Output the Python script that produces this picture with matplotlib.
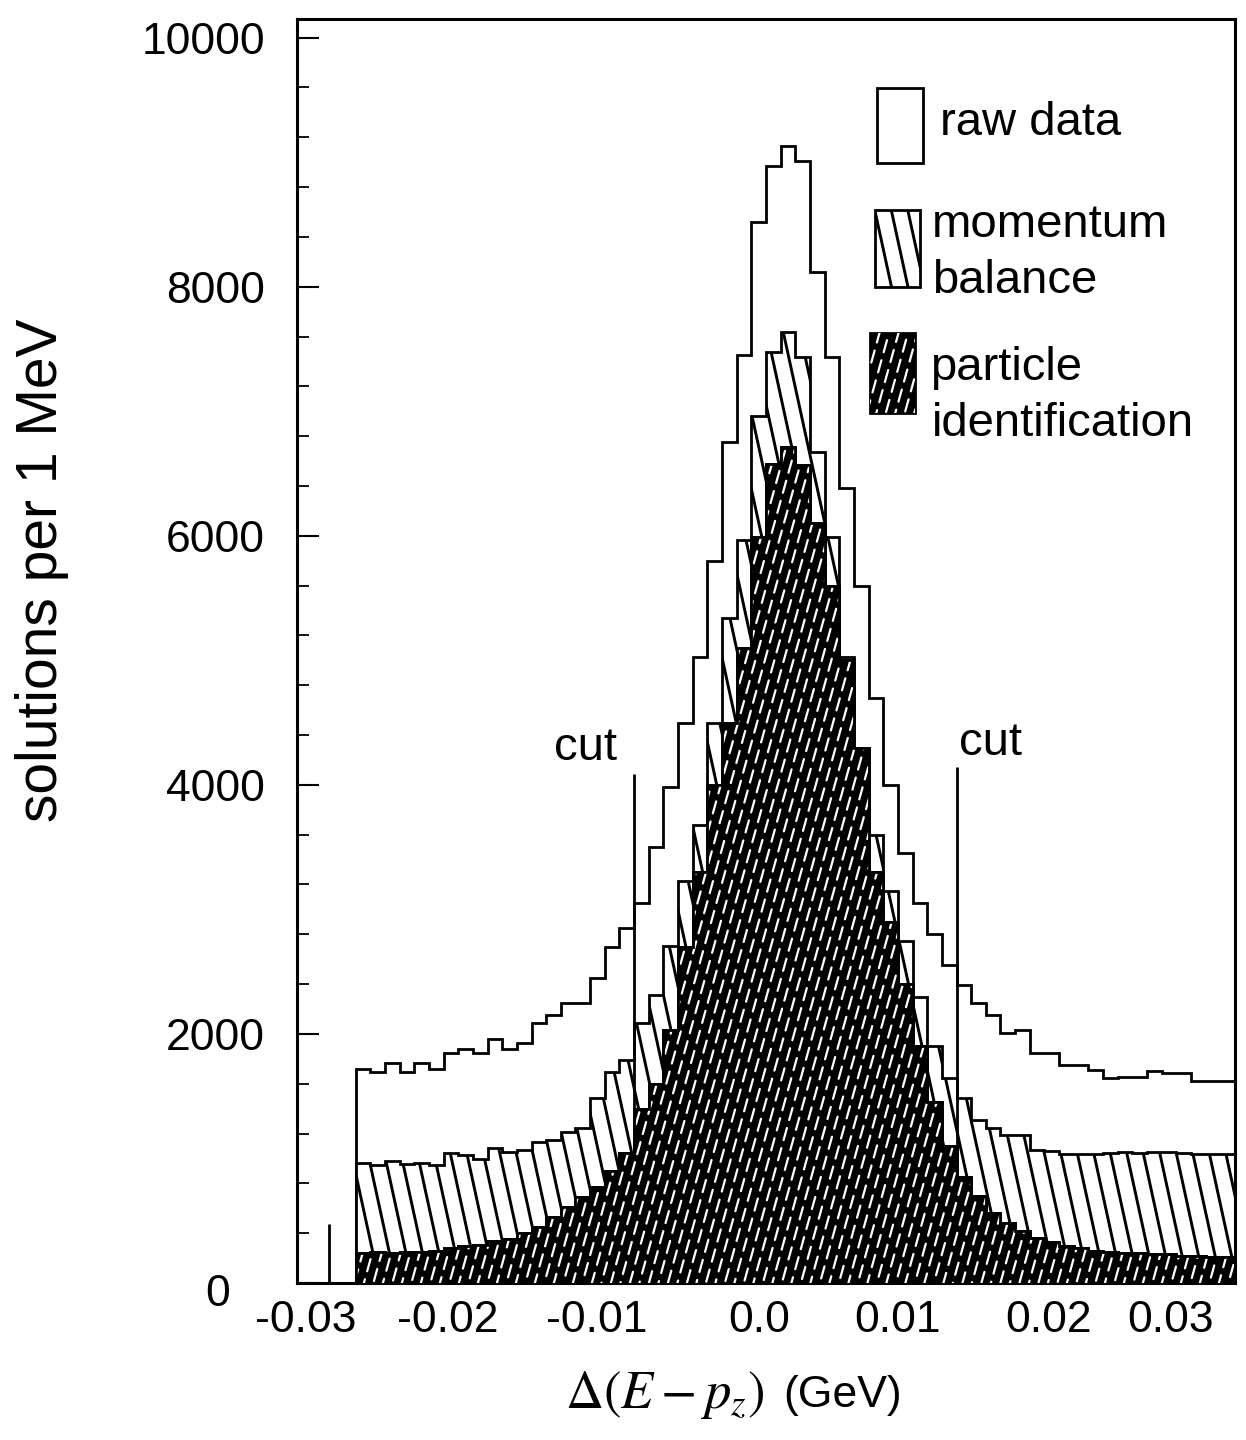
import numpy as np
import matplotlib
matplotlib.use("Agg")
import matplotlib.pyplot as plt
from matplotlib.collections import LineCollection
from matplotlib.patches import Rectangle
from matplotlib.transforms import ScaledTranslation

plt.rcParams["font.family"] = ["Liberation Sans", "DejaVu Sans"]
plt.rcParams["mathtext.fontset"] = "stix"
plt.rcParams["axes.unicode_minus"] = False
plt.rcParams["lines.scale_dashes"] = False

# --- data: solutions per 1 MeV bin, first bin starts at -0.027 GeV ---
bin_lo = -0.027
bin_w = 0.001
raw = [1715, 1696, 1763, 1696, 1763, 1715, 1843, 1883, 1843, 1956,
       1883, 1924, 2084, 2151, 2250, 2250, 2450, 2700, 2850, 3050,
       3500, 3980, 4500, 5024, 5800, 6752, 7448, 8518, 8973, 9133,
       9013, 8116, 7434, 6380, 5600, 4700, 4000, 3450, 3050, 2800,
       2550, 2390, 2247, 2151, 2006, 2030, 1843, 1843, 1750, 1750,
       1709, 1645, 1653, 1653, 1701, 1685, 1685, 1621, 1621, 1621]
mom_bal = [963, 947, 979, 955, 963, 947, 1043, 1027, 995, 1083,
           1052, 1067, 1131, 1147, 1212, 1244, 1485, 1693, 1790, 2087,
           2310, 2710, 3230, 3676, 4494, 5337, 5963, 6966, 7475, 7635,
           7434, 6672, 5990, 5024, 4260, 3600, 3150, 2750, 2300, 1900,
           1650, 1485, 1308, 1244, 1188, 1188, 1067, 1060, 1035, 1035,
           1035, 1043, 1050, 1040, 1050, 1050, 1040, 1035, 1035, 1035]
pid = [240, 250, 240, 245, 250, 255, 280, 300, 305, 340,
       350, 400, 450, 530, 610, 690, 770, 900, 1040, 1400,
       1600, 2030, 2700, 3300, 4000, 4500, 5100, 5990, 6580, 6710,
       6565, 6100, 5600, 5000, 4300, 3300, 2900, 2400, 1900, 1450,
       1100, 850, 700, 560, 480, 420, 360, 330, 300, 280,
       260, 250, 240, 240, 230, 230, 220, 220, 210, 210]
edges = bin_lo + bin_w * np.arange(len(raw) + 1)

cut_x = [-0.008, 0.014]
cut_top = [4090, 4140]
cut_text_x = [-0.0113, 0.0163]
cut_text_y = [4200, 4240]
stray_x = [-0.0288]
stray_h = [470]

xticks = [-0.03, -0.02, -0.01, 0.0, 0.01, 0.02, 0.03]
xticklabels = ["-0.03", "-0.02", "-0.01", "0.0", "0.01", "0.02", "0.03"]
yticks = [0, 2000, 4000, 6000, 8000, 10000]

# --- figure / axes geometry (pixels of a 1246x1440 canvas) ---
W_PX, H_PX = 1246, 1440
AX_L, AX_R, AX_T, AX_B = 297, 1235, 19, 1283
ax_w = AX_R - AX_L
ax_h = AX_B - AX_T

fig = plt.figure(figsize=(W_PX / 100, H_PX / 100), dpi=100)
ax = fig.add_axes([AX_L / W_PX, 1 - AX_B / H_PX, ax_w / W_PX, ax_h / H_PX])


def hatch(clip, slope, step, color, lw, dash=None, box=None):
    # steep lines drawn in axes fraction, clipped to a patch
    # slope > 0 -> "\" ; slope < 0 -> "/"
    x_a, x_b, y_a, y_b = box if box else (0, ax_w, 0, ax_h)
    run = (y_b - y_a) / abs(slope)
    segs, styles = [], []
    x0 = x_a - run
    i = 0
    while x0 < x_b + run:
        if slope > 0:
            seg = [(x0, y_b), (x0 + run, y_a)]
        else:
            seg = [(x0, y_a), (x0 + run, y_b)]
        segs.append([(px / ax_w, py / ax_h) for px, py in seg])
        if dash:
            styles.append(((i * 7.3) % sum(dash), dash))
        x0 += step
        i += 1
    lc = LineCollection(segs, colors=color, linewidths=lw,
                        transform=ax.transAxes,
                        linestyles=styles if dash else "solid",
                        zorder=clip.get_zorder() + 0.05, capstyle="round")
    ax.add_collection(lc)
    lc.set_clip_path(clip)
    return lc


# raw data
ax.stairs(raw, edges, baseline=0, fill=True, facecolor="white",
          edgecolor="black", linewidth=2.0, zorder=1)

# momentum balance
mb_fill = ax.stairs(mom_bal, edges, baseline=0, fill=True,
                    facecolor="white", edgecolor="none", zorder=2)
hatch(mb_fill, 4.6, 16.5, "black", 2.1)
ax.stairs(mom_bal, edges, baseline=0, fill=False, edgecolor="black",
          linewidth=2.0, zorder=2.2)

# cut lines
for cx, ct in zip(cut_x, cut_top):
    ax.vlines(cx, 0, ct, color="black", linewidth=2.0, zorder=2.5)
for tx, ty in zip(cut_text_x, cut_text_y):
    ax.text(tx, ty, "cut", fontsize=34, ha="center", va="baseline")
ax.vlines(stray_x, 0, stray_h, color="black", linewidth=2.0)

# particle identification
pid_fill = ax.stairs(pid, edges, baseline=0, fill=True,
                     facecolor="black", edgecolor="black", linewidth=2.0,
                     zorder=3)
hatch(pid_fill, -3.6, 9.5, "white", 1.6, dash=(9.0, 6.0))
ax.stairs(pid, edges, baseline=0, fill=False, edgecolor="black",
          linewidth=2.0, zorder=3.2)


# --- legend, drawn by hand in axes fraction ---
def to_ax(px, py):
    return (px - AX_L) / ax_w, (AX_B - py) / ax_h


def box(x0, y0, x1, y1, face):
    (ax0, ay1), (ax1, ay0) = to_ax(x0, y0), to_ax(x1, y1)
    r = Rectangle((ax0, ay0), ax1 - ax0, ay1 - ay0, transform=ax.transAxes,
                  facecolor=face, edgecolor="black", linewidth=2.0, zorder=5)
    ax.add_patch(r)
    return r


box(877, 88, 923, 163, "white")
r_mb = box(875, 210, 920, 287, "white")
hatch(r_mb, 4.6, 16.5, "black", 2.1,
      box=(875 - AX_L, 920 - AX_L, AX_B - 287, AX_B - 210))
r_pid = box(870, 333, 915, 413, "black")
hatch(r_pid, -3.6, 9.5, "white", 1.6, dash=(9.0, 6.0),
      box=(870 - AX_L, 915 - AX_L, AX_B - 413, AX_B - 333))

legend_text = [("raw data", 940, 135),
               ("momentum", 932, 237),
               ("balance", 932, 293),
               ("particle", 930, 380),
               ("identification", 932, 436)]
for txt, px, py in legend_text:
    tx, ty = to_ax(px, py)
    ax.text(tx, ty, txt, transform=ax.transAxes, fontsize=34,
            ha="left", va="baseline", zorder=6)

# --- axes styling ---
ax.set_xlim(-0.031, 0.033)
ax.set_ylim(0, 10150)
ax.set_xticks(xticks)
ax.set_xticklabels(xticklabels)
ax.set_yticks(yticks)
ax.set_yticks(np.arange(0, 10001, 400), minor=True)
ax.tick_params(axis="x", length=0, labelsize=32, pad=12)
ax.tick_params(axis="y", which="major", direction="in", length=16,
               width=1.5, labelsize=32, pad=23)
ax.tick_params(axis="y", which="minor", direction="in", length=8.5,
               width=1.3)
for s in ax.spines.values():
    s.set_linewidth(2.2)

# labels are hand-placed in the original: small per-label nudges (px)
x_nudge = [-6, -10, -8, 8, 0, 4, -20]
for lbl, dx in zip(ax.get_xticklabels(), x_nudge):
    lbl.set_transform(lbl.get_transform()
                      + ScaledTranslation(dx / 100, 0, fig.dpi_scale_trans))
yl = ax.get_yticklabels()[0]
yl.set_transform(yl.get_transform()
                 + ScaledTranslation(-0.35, -0.07, fig.dpi_scale_trans))

fig.text(42 / W_PX, 1 - 570 / H_PX, "solutions per 1 MeV", rotation=90,
         fontsize=41, ha="center", va="center")
fig.text(765 / W_PX, 1 - 1395 / H_PX, r"$\Delta\left(E-p_z\right)$",
         fontsize=38, ha="right", va="center")
fig.text(783 / W_PX, 1 - 1395 / H_PX, "(GeV)",
         fontsize=32, ha="left", va="center")

fig.savefig("out.png", dpi=100)
